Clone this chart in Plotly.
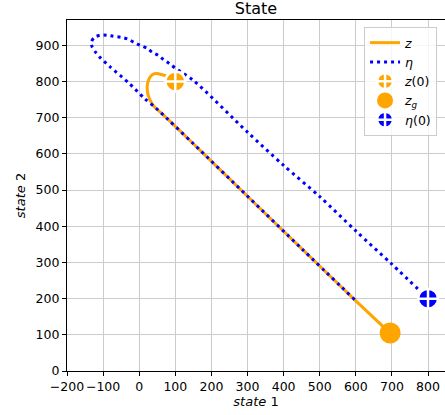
import plotly.graph_objects as go

# z trajectory
z_x = [100, 85, 66, 48, 38, 30, 24, 22, 25, 32, 42, 60, 150, 300, 450, 600, 695]
z_y = [800, 812, 818, 822, 820, 812, 798, 783, 762, 745, 730, 714, 628, 483, 338, 194, 105]

# eta trajectory
eta_x = [800, 700, 600, 500, 400, 300, 150, 100, 83, 67, 53, 36, 22, 3, -14, -31, -50, -72, -89, -108,
         -124, -133, -130, -120, -108, -80, -28, 14, 47, 60, 150, 300, 450, 600]
eta_y = [200, 295, 387, 482, 568, 660, 803, 837, 850, 861, 872, 881, 892, 900, 908, 917, 922, 925, 928, 928,
         922, 908, 895, 880, 866, 840, 795, 754, 726, 714, 628, 483, 338, 194]

z0 = (100, 800)
zg = (695, 105)
eta0 = (800, 200)

x_ticks = [-200, -100, 0, 100, 200, 300, 400, 500, 600, 700, 800]
y_ticks = [0, 100, 200, 300, 400, 500, 600, 700, 800, 900]

ORANGE = "#FFA500"
BLUE = "#0000FF"
FONT = "DejaVu Sans"

fig = go.Figure()
fig.add_trace(go.Scatter(x=z_x, y=z_y, mode="lines", name="<i>z</i>",
                         line=dict(color=ORANGE, width=3, shape="spline", smoothing=0.8)))
fig.add_trace(go.Scatter(x=eta_x, y=eta_y, mode="lines", name="<i>η</i>",
                         line=dict(color=BLUE, width=3, dash="3px,4px", shape="spline", smoothing=0.8)))
fig.add_trace(go.Scatter(x=[z0[0]], y=[z0[1]], mode="markers", name="<i>z</i>(0)",
                         marker=dict(symbol="circle-cross", size=20, color=ORANGE,
                                     line=dict(color="white", width=2.5))))
fig.add_trace(go.Scatter(x=[zg[0]], y=[zg[1]], mode="markers", name="<i>z</i><sub><i>g</i></sub>",
                         marker=dict(symbol="circle", size=21, color=ORANGE, line=dict(width=0))))
fig.add_trace(go.Scatter(x=[eta0[0]], y=[eta0[1]], mode="markers", name="<i>η</i>(0)",
                         marker=dict(symbol="circle-cross", size=20, color=BLUE,
                                     line=dict(color="white", width=2.5))))

axis_common = dict(showgrid=True, gridcolor="#cccccc", gridwidth=1.2, zeroline=False,
                   showline=True, linecolor="black", linewidth=1.2,
                   ticks="outside", ticklen=4, tickcolor="black", tickwidth=1,
                   tickfont=dict(family=FONT, size=12.5, color="black"))

fig.update_xaxes(range=[-200, 847], tickvals=x_ticks,
                 ticktext=[("\u2212" + str(-t)) if t < 0 else str(t) for t in x_ticks],
                 mirror=True, tickangle=0,
                 title=dict(text="<i>state</i> 1", font=dict(family=FONT, size=13, color="black"), standoff=3),
                 **axis_common)
fig.update_yaxes(range=[0, 970], tickvals=y_ticks, tickangle=0,
                 title=dict(text="<i>state</i> 2", font=dict(family=FONT, size=13, color="black"), standoff=6),
                 **axis_common)

fig.update_layout(
    width=445, height=415,
    margin=dict(l=67, r=0, t=20, b=44),
    plot_bgcolor="white", paper_bgcolor="white",
    title=dict(text="State", x=0.5, xref="paper", y=1 - 8 / 415, yref="container",
               xanchor="center", yanchor="middle",
               font=dict(family=FONT, size=16, color="black")),
    font=dict(family=FONT, size=12.5, color="black"),
    legend=dict(x=0.979, y=0.98, xanchor="right", yanchor="top",
                bgcolor="rgba(255,255,255,0.8)", bordercolor="#cccccc", borderwidth=1,
                font=dict(family=FONT, size=12.5), itemwidth=30, tracegroupgap=0,
                itemsizing="trace"),
    showlegend=True,
)

fig.write_html("out.html", config={"displayModeBar": False},
               post_script="document.body.style.margin='0';document.body.style.overflow='hidden';")
